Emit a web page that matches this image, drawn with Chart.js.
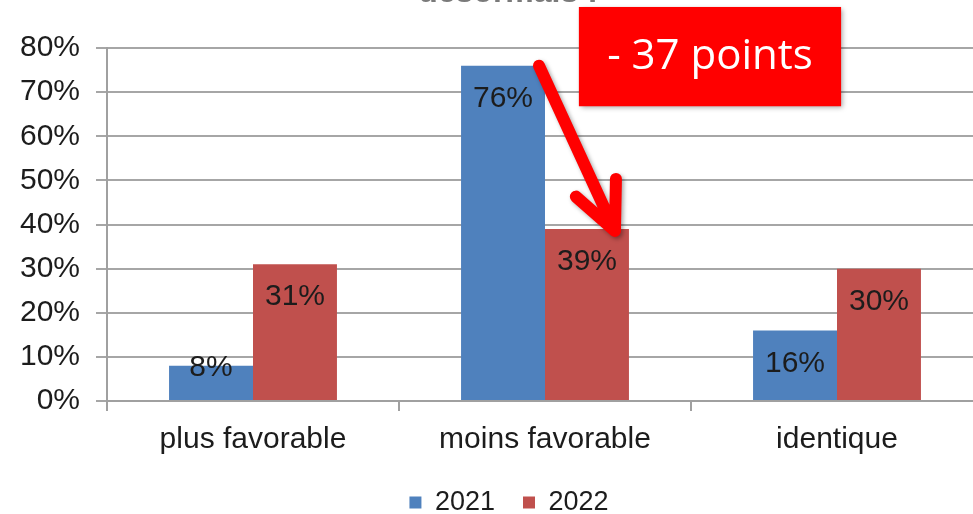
<!DOCTYPE html>
<html>
<head>
<meta charset="utf-8">
<script src="https://cdn.jsdelivr.net/npm/chart.js@4"></script>
<style>
    body { margin: 0; overflow: hidden; background: #fff; }
    #wrap { width: 1000px; height: 514px; position: relative; }
</style>
</head>
<body>
<div id="wrap"><canvas id="situationChart"></canvas></div>
<script>
// Données
const categories = ['plus favorable', 'moins favorable', 'identique'];
const values2021 = [8, 76, 16];
const values2022 = [31, 39, 30];
const seriesLabels = ['2021', '2022'];
const yTicks = [0, 10, 20, 30, 40, 50, 60, 70, 80];
const titleText = 'désormais :';
const calloutText = '- 37 points';

const FONT = '"Liberation Sans", Arial, sans-serif';

// Étiquettes de valeur à l'intérieur des barres
const valueLabels = {
    id: 'valueLabels',
    afterDatasetsDraw(chart) {
        const ctx = chart.ctx;
        ctx.save();
        ctx.font = '30px ' + FONT;
        ctx.fillStyle = '#1c1c1c';
        ctx.textAlign = 'center';
        ctx.textBaseline = 'middle';
        chart.data.datasets.forEach((ds, i) => {
            chart.getDatasetMeta(i).data.forEach((bar, j) => {
                const y = Math.min(bar.y + 33, bar.base - 32);
                ctx.fillText(ds.data[j] + '%', bar.x, y);
            });
        });
        ctx.restore();
    }
};

// Titre coupé en haut, flèche et encadré rouge
const overlay = {
    id: 'overlay',
    afterDraw(chart) {
        const ctx = chart.ctx;
        const x = chart.scales.x;
        const y = chart.scales.y;

        ctx.save();
        ctx.font = 'bold 32px ' + FONT;
        ctx.fillStyle = '#7a7a7a';
        ctx.textAlign = 'center';
        ctx.textBaseline = 'alphabetic';
        ctx.fillText(titleText, 508, 2);
        ctx.restore();

        const blue = chart.getDatasetMeta(0).data[1];
        const red = chart.getDatasetMeta(1).data[1];
        const x0 = blue.x + blue.width / 2 - 6, y0 = blue.y;
        const x1 = red.x + red.width / 2 - 14, y1 = red.y + 2;
        const ang = Math.atan2(y1 - y0, x1 - x0);

        ctx.save();
        ctx.shadowColor = 'rgba(0,0,0,0.35)';
        ctx.shadowBlur = 4;
        ctx.shadowOffsetX = 2;
        ctx.shadowOffsetY = 2;
        ctx.strokeStyle = '#ff0000';
        ctx.lineWidth = 12;
        ctx.lineCap = 'round';
        ctx.lineJoin = 'round';
        ctx.beginPath();
        ctx.moveTo(x0, y0);
        ctx.lineTo(x1, y1);
        const arm = 52;
        [0.45, -0.42].forEach(d => {
            ctx.moveTo(x1, y1);
            ctx.lineTo(x1 - arm * Math.cos(ang + d), y1 - arm * Math.sin(ang + d));
        });
        ctx.stroke();
        ctx.restore();

        // encadré
        const bx0 = x.getPixelForValue(1.116);
        const bx1 = x.getPixelForValue(2.014);
        const by0 = y.getPixelForValue(89.3);
        const by1 = y.getPixelForValue(66.8);
        ctx.save();
        ctx.shadowColor = 'rgba(0,0,0,0.35)';
        ctx.shadowBlur = 5;
        ctx.shadowOffsetX = 2;
        ctx.shadowOffsetY = 2;
        ctx.fillStyle = '#ff0000';
        ctx.fillRect(bx0, by0, bx1 - bx0, by1 - by0);
        ctx.restore();
        ctx.save();
        ctx.fillStyle = '#ffffff';
        ctx.font = '42px "Open Sans", sans-serif';
        ctx.textAlign = 'center';
        ctx.textBaseline = 'middle';
        ctx.fillText(calloutText, (bx0 + bx1) / 2, (by0 + by1) / 2);
        ctx.restore();
    }
};

new Chart(document.getElementById('situationChart'), {
    type: 'bar',
    data: {
        labels: categories,
        datasets: [
            { label: seriesLabels[0], data: values2021, backgroundColor: '#4f81bd' },
            { label: seriesLabels[1], data: values2022, backgroundColor: '#c0504d' }
        ]
    },
    options: {
        responsive: true,
        maintainAspectRatio: false,
        animation: false,
        layout: { padding: { top: 48, right: 1, left: 19, bottom: -12 } },
        datasets: { bar: { barPercentage: 1, categoryPercentage: 0.575 } },
        scales: {
            x: {
                grid: { drawOnChartArea: false, drawTicks: true, tickLength: 10, color: '#a0a0a0', lineWidth: 2 },
                border: { color: '#a0a0a0', width: 2 },
                ticks: { font: { family: FONT, size: 30 }, color: '#1c1c1c', padding: 11 },
                afterFit(scale) { scale.height = 87; }
            },
            y: {
                min: 0,
                max: 80,
                afterBuildTicks(scale) { scale.ticks = yTicks.map(v => ({ value: v })); },
                grid: { color: '#a6a6a6', lineWidth: 2, tickLength: 11 },
                border: { color: '#a0a0a0', width: 2 },
                ticks: {
                    font: { family: FONT, size: 30 },
                    color: '#1c1c1c',
                    padding: 16,
                    callback: v => v + '%'
                },
                afterFit(scale) { scale.width = 88; }
            },
            // axe vide à droite : réserve la marge au-delà de la zone de tracé
            yRight: {
                position: 'right',
                grid: { drawOnChartArea: false, drawTicks: false },
                border: { display: false },
                ticks: { display: false },
                afterFit(scale) { scale.width = 16; }
            }
        },
        plugins: {
            legend: {
                position: 'bottom',
                labels: {
                    font: { family: FONT, size: 27 },
                    color: '#1c1c1c',
                    boxWidth: 12,
                    boxHeight: 12,
                    padding: 1,
                    generateLabels(chart) {
                        const items = Chart.defaults.plugins.legend.labels.generateLabels(chart);
                        items.forEach((it, i) => { if (i < items.length - 1) it.text += '\u2003'; });
                        return items;
                    }
                }
            },
            tooltip: { enabled: false }
        }
    },
    plugins: [valueLabels, overlay]
});
</script>
</body>
</html>
